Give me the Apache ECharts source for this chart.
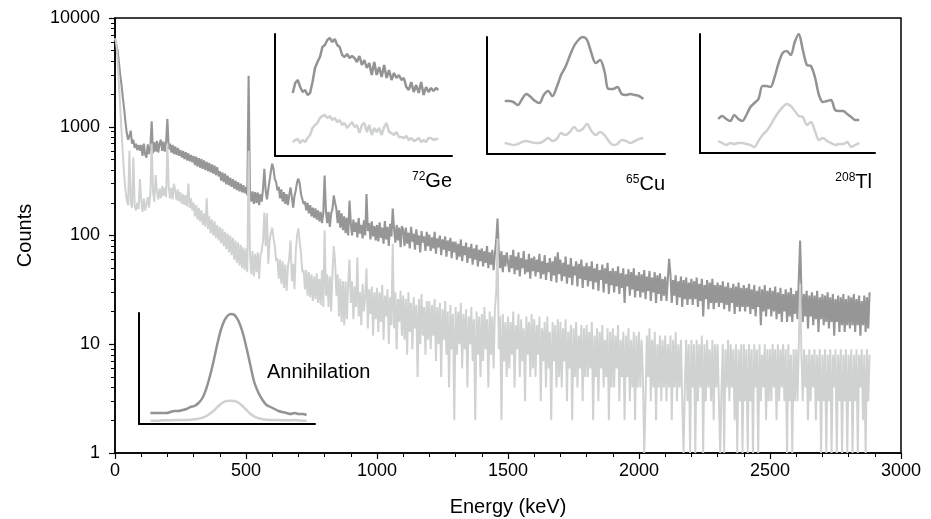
<!DOCTYPE html>
<html><head><meta charset="utf-8">
<script src="https://cdn.jsdelivr.net/npm/echarts@6/dist/echarts.min.js"></script>
<style>html,body{margin:0;padding:0;background:#fff}#c{width:931px;height:519px}</style>
</head><body><div id="c"></div>
<script>
// ---- main spectrum (5 keV bins, 0 .. 2880 keV), one row = 100 keV ----
const energyStep = 5;
const darkCounts = [
6500,6400,5000,3900,3000,2400,1850,1450,1100,870,760,820,920,700,760,640,700,610,680,600,
680,540,700,560,520,690,560,650,1120,570,720,590,740,580,700,760,600,730,590,720,
1180,620,700,580,680,560,660,550,640,540,610,520,600,505,585,490,570,480,550,470,
540,445,530,430,515,420,505,410,490,400,475,390,465,380,450,370,440,360,425,350,
390,320,380,310,370,295,355,290,340,280,330,270,320,262,310,255,300,250,290,245,
280,235,2950,260,205,255,195,250,200,248,190,240,205,270,410,260,215,265,320,390,
457,410,330,310,260,280,220,265,205,250,195,240,190,235,276,225,180,230,260,310,
333,300,240,235,195,205,170,200,160,190,150,180,145,178,140,170,135,165,130,160,
356,170,130,165,120,160,175,233,200,175,130,170,118,160,112,150,105,145,100,209,
130,100,140,108,132,96,145,104,125,94,138,100,240,110,130,92,135,98,122,90,
125,88,132,95,118,84,136,92,120,80,128,98,177,115,86,125,90,118,78,122,
112,80,118,84,106,76,120,88,104,74,114,82,100,70,110,86,98,72,108,80,
102,72,96,76,108,68,94,78,100,66,92,74,98,64,90,72,95,62,88,70,
88,60,84,64,92,58,80,66,86,56,78,62,84,54,76,60,82,52,74,58,
76,52,72,56,80,50,70,54,74,48,68,90,143,70,50,72,46,66,52,70,
70,46,66,50,74,44,64,48,70,42,62,50,72,44,60,46,68,40,62,47,
64,42,60,46,68,40,58,44,66,39,56,46,62,38,58,43,64,37,70,44,
60,38,56,42,64,36,54,41,62,35,52,43,58,34,55,40,60,33,52,39,
56,34,52,38,58,32,50,37,55,31,48,39,54,30,50,36,56,29,47,35,
50,30,47,34,52,29,45,33,50,24,44,34,49,28,46,32,50,27,43,31,
46,27,44,30,48,26,42,31,47,25,41,30,46,24,43,29,45,25,40,28,
42,25,40,61,44,24,39,28,43,23,38,27,42,22,39,26,41,23,37,26,
40,23,38,26,41,22,36,25,40,18,35,26,39,21,37,24,40,21,35,24,
37,22,35,24,38,21,34,23,37,20,33,24,36,19,34,22,37,20,33,22,
35,20,33,22,36,19,32,21,35,18,31,22,34,15,32,20,35,18,31,21,
33,18,31,20,34,17,30,19,33,16,29,20,32,16,30,18,33,16,29,19,
31,17,40,90,30,16,29,18,31,14,28,18,30,15,28,17,31,13,27,17,
29,15,28,16,30,14,27,16,29,12,26,16,28,13,27,15,29,13,26,15,
28,14,27,15,29,13,26,15,28,12,25,15,28,13,27,14,30
];
const lightCounts = [
6500,6000,4000,2500,1500,900,560,360,260,210,190,600,200,180,520,190,170,200,175,330,
210,165,220,170,175,225,180,240,700,250,205,360,255,215,270,220,285,230,275,225,
700,280,220,275,215,300,260,210,265,205,250,195,240,190,235,185,300,180,220,170,
200,150,190,140,180,135,170,125,160,120,220,115,150,105,140,100,135,95,125,90,
120,85,115,80,108,75,104,70,100,66,95,60,90,56,86,53,82,50,78,48,
76,46,600,70,44,72,42,68,46,70,40,66,72,90,163,80,160,55,90,105,
118,95,80,58,62,40,60,36,58,33,54,31,52,62,90,38,55,32,72,100,
116,88,68,46,48,32,48,28,46,27,44,25,42,26,45,24,40,23,48,22,
111,28,44,22,42,20,46,80,58,28,44,18,40,16,38,15,38,17,36,60,
24,38,17,34,22,63,18,30,15,36,20,28,50,14,32,19,34,12,30,17,
33,13,30,16,35,11,28,18,32,10,27,15,84,14,30,9,26,16,31,12,
28,11,26,8,30,13,24,9,27,14,23,5,26,10,29,12,22,8,25,11,
25,9,23,12,26,7,22,10,24,5,21,11,25,8,20,4,23,9,19,2,
22,8,20,10,24,6,19,9,21,4,18,10,22,7,17,2,20,8,18,5,
19,7,22,9,17,4,20,8,18,6,21,30,94,9,18,2,19,7,16,5,
18,6,16,8,20,4,15,9,19,5,17,7,14,3,18,8,16,5,19,6,
17,5,15,8,18,3,14,7,16,4,18,6,13,2,16,7,15,4,17,5,
16,4,14,7,17,3,13,6,15,2,14,5,16,4,12,6,15,3,14,5,
15,5,13,6,16,2,12,5,14,3,13,6,15,4,11,5,14,2,13,4,
14,4,12,6,15,3,11,5,13,2,12,5,14,3,11,4,13,2,12,4,
13,4,11,5,1,3,12,5,14,3,11,4,13,2,10,4,12,3,11,4,
12,3,10,4,12,2,11,4,13,3,10,4,11,3,1,4,11,3,10,1,
11,4,10,1,11,3,10,4,12,1,10,3,11,4,9,3,11,2,10,4,
10,3,1,4,10,1,9,4,11,3,10,4,9,2,10,1,9,3,10,1,
10,3,9,1,10,3,9,1,10,4,9,1,10,3,8,4,10,2,9,3,
9,3,10,4,9,2,10,3,9,4,10,3,9,1,10,3,8,1,9,3,
9,3,10,36,8,3,9,4,8,2,9,3,8,4,9,2,8,3,9,1,
8,3,9,1,8,3,9,1,8,4,9,1,8,3,9,1,8,3,9,1,
8,3,9,1,8,3,9,1,8,4,9,2,8,1,9,3,8
];
const energies = darkCounts.map((_, i) => i * energyStep);

const xTickStep = 500;
const yMajorTicks = [1, 10, 100, 1000, 10000];
const yMinorTicks = [2,3,4,5,6,7,8,9,20,30,40,50,60,70,80,90,200,300,400,500,600,700,800,900,2000,3000,4000,5000,6000,7000,8000,9000];

// ---- inset zooms (relative counts, arbitrary units, uniform channels) ----
const geDark = [63,73,76,69,64,66,61,63,74,88,94,99,109,111,116,118,114,117,111,109,101,99,102,98,100,98,94,100,91,96,88,93,81,94,81,89,79,91,78,86,76,83,78,81,76,78,69,66,74,64,71,63,74,61,69,64,68,65,68,66];
const geLight = [14,16,17,13,16,14,18,21,28,31,33,38,40,41,38,40,36,38,34,36,31,33,28,31,34,29,31,23,31,33,24,31,21,28,24,28,21,29,33,24,23,21,24,19,19,18,20,16,18,15,16,18,14,16,14,18,18,16,17,17];
const cuDark = [53,53,52,49,55,60,57,53,51,59,63,58,67,79,87,98,108,114,117,114,101,91,94,83,65,65,67,60,59,60,59,58,55];
const cuLight = [11,10,9,10,12,13,12,11,11,13,16,13,15,21,19,22,27,23,25,30,23,19,22,19,13,9,10,14,13,11,13,15,16];
const tlDark = [34,37,34,32,38,34,32,38,46,50,54,67,67,66,76,90,100,102,98,111,119,103,88,87,76,58,51,52,53,43,42,42,39,36,33,33];
const tlLight = [12,10,8,10,9,10,10,9,8,6,12,18,22,28,35,41,46,49,47,42,37,36,28,31,22,13,15,12,10,8,9,9,11,6,8,10];
const annDark = [11,11,11,11,11,12,13,13,14,15,17,18,21,26,36,50,67,85,99,107,110,109,103,92,76,58,41,31,24,19,17,15,13,12,11,10,11,10,10,9];
const annLight = [3.3,3.3,3.3,3.7,3.7,3.7,4,4,4,4,4.3,4.7,5.3,6.3,8,10.7,14,18,21.3,23,23.3,23,21.3,18,14,10,7.3,5.7,4.7,4.3,4,4,4,3.7,3.7,3.7,4,3.7,3.3,3.3];

const insetNames = [['72', 'Ge'], ['65', 'Cu'], ['208', 'Tl'], ['', 'Annihilation']];

const FONT = '"Liberation Sans", Arial, Helvetica, sans-serif';
const DARK = '#969696', LIGHT = '#d0d2d2';

const chart = echarts.init(document.getElementById('c'), null, {renderer: 'canvas'});

const insets = [
  {grid: {left: 275, top: 34, width: 177, height: 122}, xr: [-7.2, 64.5], ymax: 122, dark: geDark, light: geLight, smooth: false},
  {grid: {left: 487, top: 37, width: 178, height: 117}, xr: [-4.1, 37], ymax: 117, dark: cuDark, light: cuLight, smooth: 0.35},
  {grid: {left: 700, top: 34, width: 175, height: 119}, xr: [-4.5, 38.9], ymax: 119, dark: tlDark, light: tlLight, smooth: 0.3},
  {grid: {left: 139, top: 313, width: 176, height: 111}, xr: [-2.85, 41.1], ymax: 111, dark: annDark, light: annLight, smooth: 0.4}
];

const grids = [{left: 115, top: 18, right: 30, bottom: 66, show: true, borderColor: '#000', borderWidth: 1.5,
  backgroundColor: 'transparent', containLabel: false, outerBoundsMode: 'none'}];
const xAxes = [{
  gridIndex: 0, type: 'value', min: 0, max: 3000, interval: xTickStep,
  name: 'Energy (keV)', nameLocation: 'middle', nameGap: 44,
  nameTextStyle: {fontSize: 20, color: '#000', fontFamily: FONT},
  axisLine: {show: true, onZero: false, lineStyle: {color: '#000', width: 1.5}},
  axisTick: {show: true, length: 6, lineStyle: {color: '#000', width: 1.2}},
  minorTick: {show: true, splitNumber: 5, length: 4, lineStyle: {color: '#000', width: 1}},
  axisLabel: {fontSize: 18, color: '#000', fontFamily: FONT, margin: 9, formatter: v => String(v)},
  splitLine: {show: false}
}];
const yAxes = [{
  gridIndex: 0, type: 'log', logBase: 10, min: 1, max: 10000,
  name: 'Counts', nameLocation: 'middle', nameGap: 80, nameRotate: 90,
  nameTextStyle: {fontSize: 20, color: '#000', fontFamily: FONT},
  axisLine: {show: true, onZero: false, lineStyle: {color: '#000', width: 1.5}},
  axisTick: {show: true, length: 6, customValues: yMajorTicks, lineStyle: {color: '#000', width: 1.2}},
  axisLabel: {fontSize: 18, color: '#000', fontFamily: FONT, margin: 15, customValues: yMajorTicks, formatter: v => String(v)},
  splitLine: {show: false}
}, {
  gridIndex: 0, type: 'log', logBase: 10, min: 1, max: 10000, position: 'left',
  axisLine: {show: false},
  axisTick: {show: true, length: 4, customValues: yMinorTicks, lineStyle: {color: '#000', width: 1}},
  axisLabel: {show: false, customValues: yMinorTicks},
  splitLine: {show: false}
}];
const series = [
  {type: 'line', xAxisIndex: 0, yAxisIndex: 0, data: energies.map((e, i) => [e, darkCounts[i]]),
   showSymbol: false, symbol: 'none', lineStyle: {color: DARK, width: 2.1}, z: 2, silent: true},
  {type: 'line', xAxisIndex: 0, yAxisIndex: 0, data: energies.map((e, i) => [e, lightCounts[i]]),
   showSymbol: false, symbol: 'none', lineStyle: {color: LIGHT, width: 2.0}, z: 3, silent: true}
];

insets.forEach((ins, k) => {
  const gi = k + 1;
  grids.push(Object.assign({containLabel: false, outerBoundsMode: 'none'}, ins.grid));
  xAxes.push({gridIndex: gi, type: 'value', min: ins.xr[0], max: ins.xr[1],
    axisLine: {show: true, onZero: false, lineStyle: {color: '#000', width: 2}},
    axisTick: {show: false}, axisLabel: {show: false}, splitLine: {show: false}});
  yAxes.push({gridIndex: gi, type: 'value', min: 0, max: ins.ymax,
    axisLine: {show: true, onZero: false, lineStyle: {color: '#000', width: 2}},
    axisTick: {show: false}, axisLabel: {show: false}, splitLine: {show: false}});
  const xi = xAxes.length - 1, yi = yAxes.length - 1;
  series.push({type: 'line', xAxisIndex: xi, yAxisIndex: yi, data: ins.dark.map((v, i) => [i, v]),
    showSymbol: false, symbol: 'none', smooth: ins.smooth, lineStyle: {color: '#939393', width: 2.5}, z: 4, silent: true});
  series.push({type: 'line', xAxisIndex: xi, yAxisIndex: yi, data: ins.light.map((v, i) => [i, v]),
    showSymbol: false, symbol: 'none', smooth: ins.smooth, lineStyle: {color: '#cfd1d1', width: 2.5}, z: 4, silent: true});
});

function label(pair, x, y, align) {
  return {type: 'text', x: x, y: y, z: 10,
    style: {text: (pair[0] ? '{s|' + pair[0] + '}' : '') + '{b|' + pair[1] + '}', align: align, verticalAlign: 'middle',
      rich: {s: {fontSize: 12, fontFamily: FONT, fill: '#000', verticalAlign: 'top'},
             b: {fontSize: 20, fontFamily: FONT, fill: '#000'}}}};
}

chart.setOption({
  animation: false,
  backgroundColor: '#fff',
  grid: grids, xAxis: xAxes, yAxis: yAxes, series: series,
  graphic: [
    label(insetNames[0], 452, 181, 'right'),
    label(insetNames[1], 665, 184, 'right'),
    label(insetNames[2], 872, 182, 'right'),
    label(insetNames[3], 267, 372, 'left')
  ]
});
</script></body></html>
